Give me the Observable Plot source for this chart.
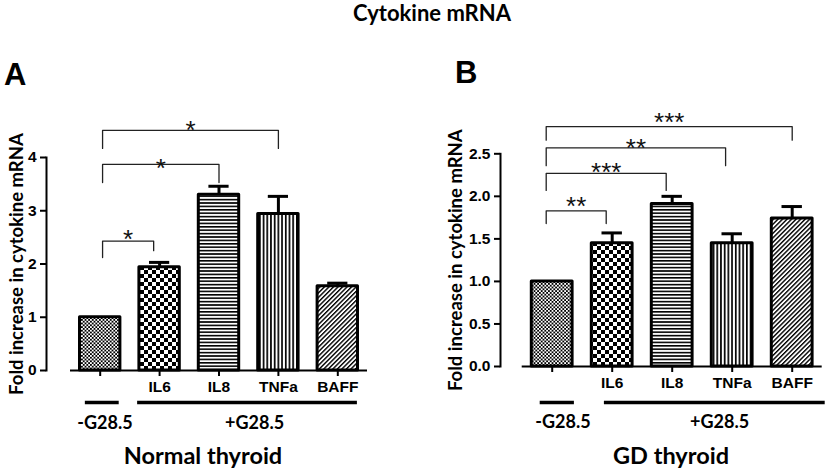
<!DOCTYPE html>
<html><head><meta charset="utf-8">
<script src="https://cdn.jsdelivr.net/npm/d3@7"></script>
<script src="https://cdn.jsdelivr.net/npm/@observablehq/plot@0.6"></script>
<style>
html,body{margin:0;padding:0;background:#fff;}
#page{position:relative;width:827px;height:470px;overflow:hidden;background:#fff;}
.title{position:absolute;top:1px;left:312px;width:240px;text-align:center;font:bold 22px Lato, sans-serif;line-height:1.05;color:#000;z-index:2;white-space:nowrap;}
.plabel{position:absolute;font:bold 31px 'Liberation Sans', Arial, sans-serif;line-height:1;color:#000;z-index:2;}
.panel{position:absolute;top:22px;z-index:1;}
#page svg g[aria-label$="tick label"], #page svg g[aria-label$="tick label"] text {
  font-family: 'Liberation Sans', Arial, sans-serif !important; font-size: 15.5px !important; font-weight: bold !important; fill: #000;
}
</style></head>
<body><div id="page">
<div class="panel" id="pa" style="left:0px"></div>
<div class="panel" id="pb" style="left:413px"></div>
<div class="title">Cytokine mRNA</div>
<div class="plabel" style="left:4px;top:59px">A</div>
<div class="plabel" style="left:455px;top:57px">B</div>
</div>
<script>
// ---- data ----
const categories = ["", "IL6", "IL8", "TNFa", "BAFF"];
const normalMean = [1.00, 1.94, 3.30, 2.94, 1.58];
const normalErr  = [0, 0.09, 0.16, 0.33, 0.06];
const gdMean     = [1.00, 1.45, 1.91, 1.45, 1.74];
const gdErr      = [0, 0.12, 0.09, 0.11, 0.14];
const normalTicks = [0, 1, 2, 3, 4];
const gdTicks = [0, 0.5, 1.0, 1.5, 2.0, 2.5];

// significance brackets (x in bar index units, y in fold units)
const normalBracketFrom = [0.04, 0.04, 0.04];
const normalBracketTo   = [0.9, 2, 3];
const normalBracketTop  = [2.43, 3.87, 4.51];
const normalBracketLeftEnd  = [2.12, 3.53, 4.17];
const normalBracketRightEnd = [2.25, 3.53, 4.17];
const normalStars = ["*", "*", "*"];
const normalStarY = [2.60, 3.94, 4.66];

const gdBracketFrom = [-0.1, -0.1, -0.1, -0.1];
const gdBracketTo   = [0.9, 1.9, 2.89, 4.0];
const gdBracketTop  = [1.83, 2.27, 2.57, 2.82];
const gdBracketLeftEnd  = [1.68, 2.07, 2.36, 2.66];
const gdBracketRightEnd = [1.68, 2.07, 2.36, 2.66];
const gdStars = ["**", "***", "**", "***"];
const gdStarY = [1.97, 2.37, 2.66, 2.96];

// treatment groups under the axis
const groupLabels = ["-G28.5", "+G28.5"];
const normalGroupFrom = [-0.25, 0.63];
const normalGroupTo   = [0.32, 4.33];
const normalGroupText = [0.08, 2.6];
const gdGroupFrom = [-0.2, 0.87];
const gdGroupTo   = [0.37, 4.55];
const gdGroupText = [0.18, 2.79];

const panelNames = ["Normal thyroid", "GD thyroid"];
const normalNameX = 1.73;
const gdNameX = 1.98;
const yLabel = "Fold increase in cytokine mRNA";

// ---- drawing ----
const patternIds = ["fine", "check", "hlines", "vlines", "diag"];
const sansBold = "'Liberation Sans', Arial, sans-serif";

function addPatterns(svg, prefix) {
  const defs = d3.select(svg).insert("defs", ":first-child");
  let p = defs.append("pattern").attr("id", prefix + "fine").attr("patternUnits", "userSpaceOnUse").attr("width", 3.6).attr("height", 3.6);
  p.append("rect").attr("width", 3.6).attr("height", 3.6).attr("fill", "#fff");
  p.append("rect").attr("width", 1.8).attr("height", 1.8).attr("fill", "#000");
  p.append("rect").attr("x", 1.8).attr("y", 1.8).attr("width", 1.8).attr("height", 1.8).attr("fill", "#000");
  p = defs.append("pattern").attr("id", prefix + "check").attr("patternUnits", "userSpaceOnUse").attr("width", 8).attr("height", 8);
  p.append("rect").attr("width", 8).attr("height", 8).attr("fill", "#fff");
  p.append("rect").attr("width", 4).attr("height", 4).attr("fill", "#000");
  p.append("rect").attr("x", 4).attr("y", 4).attr("width", 4).attr("height", 4).attr("fill", "#000");
  p = defs.append("pattern").attr("id", prefix + "hlines").attr("patternUnits", "userSpaceOnUse").attr("width", 10).attr("height", 3.4);
  p.append("rect").attr("width", 10).attr("height", 3.4).attr("fill", "#fff");
  p.append("rect").attr("width", 10).attr("height", 1.6).attr("fill", "#000");
  p = defs.append("pattern").attr("id", prefix + "vlines").attr("patternUnits", "userSpaceOnUse").attr("width", 3.7).attr("height", 10);
  p.append("rect").attr("width", 3.7).attr("height", 10).attr("fill", "#fff");
  p.append("rect").attr("width", 1.7).attr("height", 10).attr("fill", "#000");
  p = defs.append("pattern").attr("id", prefix + "diag").attr("patternUnits", "userSpaceOnUse").attr("width", 3.2).attr("height", 10).attr("patternTransform", "rotate(45)");
  p.append("rect").attr("width", 3.2).attr("height", 10).attr("fill", "#fff");
  p.append("rect").attr("width", 1.4).attr("height", 10).attr("fill", "#000");
}

function panel(cfg) {
  const bars = categories.map((c, i) => ({i, cat: c, value: cfg.mean[i], err: cfg.err[i]}));
  const withErr = bars.filter(d => d.err > 0);
  const bracketPts = [];
  const stars = [];
  cfg.bFrom.forEach((f, k) => {
    const t = cfg.bTo[k];
    bracketPts.push({k, x: f, y: cfg.bLeft[k]}, {k, x: f, y: cfg.bTop[k]}, {k, x: t, y: cfg.bTop[k]}, {k, x: t, y: cfg.bRight[k]});
    stars.push({x: (f + t) / 2, y: cfg.starY[k], s: cfg.stars[k]});
  });
  const groups = groupLabels.map((g, k) => ({g, x1: cfg.gFrom[k], x2: cfg.gTo[k], tx: cfg.gText[k]}));
  const halfW = 0.34, capHalf = 0.17;
  const marks = [
    ...bars.map(d => Plot.rect([d], {x1: b => b.i - halfW, x2: b => b.i + halfW, y1: 0, y2: "value",
      fill: `url(#${cfg.prefix}${patternIds[d.i]})`, stroke: "#000", strokeWidth: 3, strokeLinejoin: "round"})),
    Plot.ruleX(withErr, {x: "i", y1: "value", y2: d => d.value + d.err, stroke: "#000", strokeWidth: 3}),
    Plot.ruleY(withErr, {y: d => d.value + d.err, x1: d => d.i - capHalf, x2: d => d.i + capHalf, stroke: "#000", strokeWidth: 3}),
    Plot.ruleY([0], {insetLeft: cfg.insetLeft, stroke: "#000", strokeWidth: 2}),
    Plot.frame({anchor: "left", stroke: "#000", strokeWidth: 2}),
    Plot.axisY({ticks: cfg.ticks, tickFormat: cfg.fmt, tickSize: 6, tickPadding: 4, strokeWidth: 2, label: null,
      fontSize: 15.5, fontWeight: "bold", fontFamily: sansBold, fill: "#000"}),
    Plot.axisX({ticks: [0, 1, 2, 3, 4], tickFormat: i => categories[i], tickSize: 6, tickPadding: 4, strokeWidth: 2, label: null,
      fontSize: 15.5, fontWeight: "bold", fontFamily: sansBold, fill: "#000"}),
    Plot.line(bracketPts, {x: "x", y: "y", z: "k", stroke: "#222", strokeWidth: 1.3, curve: "linear"}),
    Plot.text(stars, {x: "x", y: "y", text: "s", fontFamily: sansBold, fontSize: 26, fontWeight: "normal",
      lineAnchor: "middle", dy: 8, fill: "#111", style: "letter-spacing:2px"}),
    Plot.ruleY(groups, {y: 0, x1: "x1", x2: "x2", dy: cfg.lineDy, stroke: "#000", strokeWidth: 3.5}),
    Plot.text(groups, {x: "tx", y: 0, text: "g", dy: cfg.labelDy, lineAnchor: "bottom", fontFamily: "Lato, sans-serif", fontSize: 18, fontWeight: "bold", fill: "#000"}),
    Plot.text([cfg.name], {x: () => cfg.nameX, y: 0, text: d => d, dy: cfg.nameDy, lineAnchor: "bottom", fontFamily: "Lato, sans-serif", fontSize: 23.5, fontWeight: "bold", fill: "#000"}),
    Plot.text([yLabel], {text: d => d, frameAnchor: "left", rotate: -90, dx: cfg.yLabelDx, lineAnchor: "middle", textAnchor: "middle",
      fontFamily: "Lato, sans-serif", fontSize: 18.5, fontWeight: "bold", fill: "#000"})
  ];
  const svg = Plot.plot({
    width: cfg.width, height: 448,
    marginLeft: cfg.marginLeft, marginRight: cfg.marginRight, marginTop: cfg.marginTop, marginBottom: cfg.marginBottom,
    x: {type: "linear", domain: [-0.5, 4.5], insetLeft: cfg.insetLeft},
    y: {domain: [0, cfg.yMax]},
    style: {background: "transparent", color: "#000", overflow: "visible", fontFamily: sansBold, fontSize: "15px", fontWeight: "bold"},
    marks
  });
  addPatterns(svg, cfg.prefix);
  return svg;
}

document.getElementById("pa").appendChild(panel({
  prefix: "a", mean: normalMean, err: normalErr, ticks: normalTicks, fmt: d3.format("d"), yMax: 4,
  bFrom: normalBracketFrom, bTo: normalBracketTo, bTop: normalBracketTop, bLeft: normalBracketLeftEnd, bRight: normalBracketRightEnd,
  stars: normalStars, starY: normalStarY,
  gFrom: normalGroupFrom, gTo: normalGroupTo, gText: normalGroupText, name: panelNames[0], nameX: normalNameX,
  width: 413, marginLeft: 46, marginRight: 46, marginTop: 135, marginBottom: 100, insetLeft: 24,
  lineDy: 32, labelDy: 58, nameDy: 93, yLabelDx: -29
}));
document.getElementById("pb").appendChild(panel({
  prefix: "b", mean: gdMean, err: gdErr, ticks: gdTicks, fmt: d3.format(".1f"), yMax: 2.5,
  bFrom: gdBracketFrom, bTo: gdBracketTo, bTop: gdBracketTop, bLeft: gdBracketLeftEnd, bRight: gdBracketRightEnd,
  stars: gdStars, starY: gdStarY,
  gFrom: gdGroupFrom, gTo: gdGroupTo, gText: gdGroupText, name: panelNames[1], nameX: gdNameX,
  width: 414, marginLeft: 87, marginRight: 5.3, marginTop: 131.3, marginBottom: 104, insetLeft: 21.7,
  lineDy: 36, labelDy: 61, nameDy: 97, yLabelDx: -44
}));
</script>
</body></html>
